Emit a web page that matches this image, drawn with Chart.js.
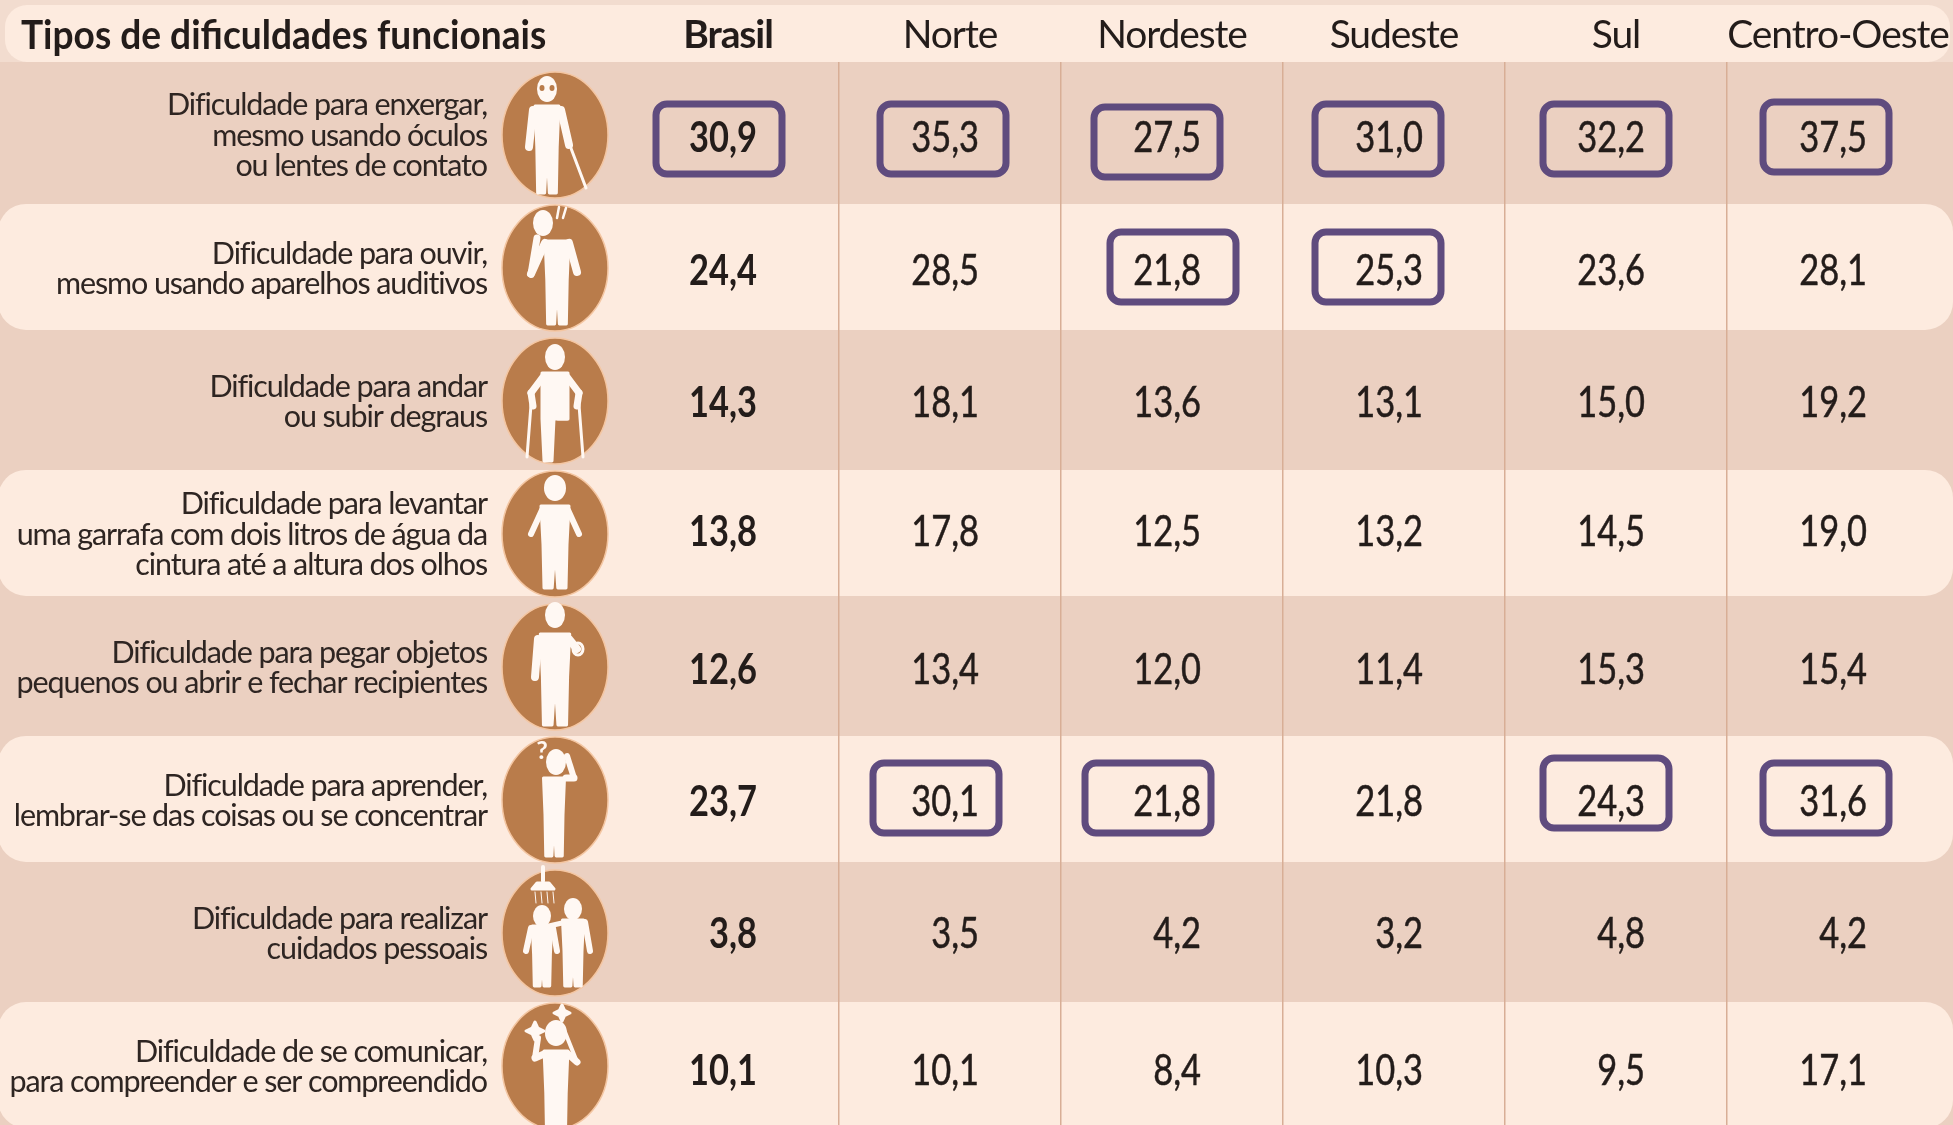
<!DOCTYPE html>
<html>
<head>
<meta charset="utf-8">
<style>
  html, body { margin: 0; padding: 0; background: #ecd2c3; overflow: hidden; }
  #wrap { width: 1953px; height: 1125px; }
</style>
<script src="https://cdn.jsdelivr.net/npm/chart.js@4/dist/chart.umd.min.js"></script>
</head>
<body>
<div id="wrap"><canvas id="myChart" width="1953" height="1125"></canvas></div>
<script>
// data
const headerTitle = 'Tipos de dificuldades funcionais';
const regions = ['Brasil', 'Norte', 'Nordeste', 'Sudeste', 'Sul', 'Centro-Oeste'];
const rowLabels = [
  ['Dificuldade para enxergar,', 'mesmo usando óculos', 'ou lentes de contato'],
  ['Dificuldade para ouvir,', 'mesmo usando aparelhos auditivos'],
  ['Dificuldade para andar', 'ou subir degraus'],
  ['Dificuldade para levantar', 'uma garrafa com dois litros de água da', 'cintura até a altura dos olhos'],
  ['Dificuldade para pegar objetos', 'pequenos ou abrir e fechar recipientes'],
  ['Dificuldade para aprender,', 'lembrar-se das coisas ou se concentrar'],
  ['Dificuldade para realizar', 'cuidados pessoais'],
  ['Dificuldade de se comunicar,', 'para compreender e ser compreendido']
];
const brasil = [30.9, 24.4, 14.3, 13.8, 12.6, 23.7, 3.8, 10.1];
const norte = [35.3, 28.5, 18.1, 17.8, 13.4, 30.1, 3.5, 10.1];
const nordeste = [27.5, 21.8, 13.6, 12.5, 12.0, 21.8, 4.2, 8.4];
const sudeste = [31.0, 25.3, 13.1, 13.2, 11.4, 21.8, 3.2, 10.3];
const sul = [32.2, 23.6, 15.0, 14.5, 15.3, 24.3, 4.8, 9.5];
const centroOeste = [37.5, 28.1, 19.2, 19.0, 15.4, 31.6, 4.2, 17.1];
const seriesValues = [brasil, norte, nordeste, sudeste, sul, centroOeste];
// cells with a purple frame: region, row
const highlighted = [
  ['Brasil', 0], ['Norte', 0], ['Nordeste', 0], ['Sudeste', 0], ['Sul', 0], ['Centro-Oeste', 0],
  ['Nordeste', 1], ['Sudeste', 1],
  ['Norte', 5], ['Nordeste', 5], ['Sul', 5], ['Centro-Oeste', 5]
];

// layout, nothing here comes from the table
const dark = '#ebd0c1', light = '#fdebdf', brown = '#b97c4b', purple = '#5f4b7e', ink = '#231c1a', white = '#fff8f3';
const frameShift = [[-9, 3], [-7, 3], [-15, 6], [-16, 3], [-10, 3], [-12, 1], [1, -2], [-16, -2], [-14, -3], [-24, -3], [-10, -8], [-12, -3]];
const rowShift = [2, 1, 0, -4, 1, 0, -1, 3];

function fmt(v) { return v.toFixed(1).replace('.', ','); }

// closed white shape with soft corners
function shape(ctx, pts) {
  ctx.beginPath();
  pts.forEach((p, i) => i ? ctx.lineTo(p[0], p[1]) : ctx.moveTo(p[0], p[1]));
  ctx.closePath();
  ctx.fill();
  ctx.stroke();
}

function head(ctx, x, y, rx, ry) {
  ctx.beginPath();
  ctx.ellipse(x, y, rx, ry, 0, 0, Math.PI * 2);
  ctx.fill();
}

function line(ctx, x1, y1, x2, y2, w) {
  ctx.save();
  ctx.lineWidth = w;
  ctx.beginPath();
  ctx.moveTo(x1, y1);
  ctx.lineTo(x2, y2);
  ctx.stroke();
  ctx.restore();
}

// trunk and legs. x = middle, t = shoulders, b = feet, s = half width of the shoulders
function trunk(ctx, x, t, b, s) {
  const m = t + (b - t) * 0.47;
  shape(ctx, [
    [x - s * 0.7, t], [x + s * 0.7, t], [x + s * 0.6, m],
    [x + s * 0.55, b], [x + s * 0.14, b], [x, m + 4],
    [x - s * 0.14, b], [x - s * 0.55, b], [x - s * 0.6, m]
  ]);
}

// one white figure per row, drawn around the middle of its circle
function figure(ctx, i, cx, cy) {
  if (i === 0) {
    head(ctx, cx - 8, cy - 46, 10, 13);
    trunk(ctx, cx - 8, cy - 29, cy + 58, 17);
    line(ctx, cx - 22, cy - 25, cx - 26, cy + 12, 8);
    line(ctx, cx + 6, cy - 25, cx + 14, cy + 10, 8);
    line(ctx, cx + 14, cy + 8, cx + 31, cy + 53, 3);
    ctx.fillStyle = brown;
    head(ctx, cx - 13, cy - 47, 2.5, 3);
    head(ctx, cx - 3, cy - 47, 2.5, 3);
    ctx.fillStyle = white;
  } else if (i === 1) {
    head(ctx, cx - 12, cy - 45, 10, 13);
    trunk(ctx, cx + 2, cy - 27, cy + 56, 17);
    line(ctx, cx - 10, cy - 25, cx - 24, cy + 6, 8);
    line(ctx, cx - 24, cy + 6, cx - 18, cy - 30, 7);
    line(ctx, cx + 14, cy - 25, cx + 22, cy + 4, 8);
    line(ctx, cx + 4, cy - 61, cx + 2, cy - 50, 2.5);
    line(ctx, cx + 11, cy - 60, cx + 8, cy - 50, 2.5);
  } else if (i === 2) {
    head(ctx, cx, cy - 44, 10, 13);
    shape(ctx, [[cx - 13, cy - 28], [cx + 13, cy - 28], [cx + 13, cy + 18], [cx + 8, cy + 18], [cx - 1, cy + 18], [cx - 3, cy + 60], [cx - 11, cy + 60], [cx - 13, cy + 18]]);
    shape(ctx, [[cx + 3, cy - 2], [cx + 12, cy - 2], [cx + 12, cy + 18], [cx + 3, cy + 18]]);
    line(ctx, cx - 12, cy - 24, cx - 24, cy - 8, 7);
    line(ctx, cx - 24, cy - 8, cx - 22, cy + 5, 7);
    line(ctx, cx + 12, cy - 24, cx + 24, cy - 8, 7);
    line(ctx, cx + 24, cy - 8, cx + 22, cy + 5, 7);
    line(ctx, cx - 24, cy + 4, cx - 28, cy + 56, 3);
    line(ctx, cx + 24, cy + 4, cx + 28, cy + 56, 3);
  } else if (i === 3) {
    head(ctx, cx, cy - 46, 11, 13);
    trunk(ctx, cx, cy - 28, cy + 54, 20);
    line(ctx, cx - 13, cy - 24, cx - 24, cy + 0, 6);
    line(ctx, cx + 13, cy - 24, cx + 24, cy + 0, 6);
  } else if (i === 4) {
    head(ctx, cx, cy - 52, 10, 13);
    trunk(ctx, cx, cy - 33, cy + 58, 21);
    line(ctx, cx - 17, cy - 28, cx - 20, cy + 10, 8);
    line(ctx, cx + 14, cy - 28, cx + 22, cy - 18, 8);
    ctx.beginPath();
    ctx.ellipse(cx + 23, cy - 18, 5, 6, 0, 0, Math.PI * 2);
    ctx.stroke();
  } else if (i === 5) {
    head(ctx, cx + 1, cy - 38, 10, 13);
    trunk(ctx, cx - 1, cy - 22, cy + 56, 15);
    line(ctx, cx + 11, cy - 22, cx + 19, cy - 22, 7);
    line(ctx, cx + 19, cy - 22, cx + 12, cy - 44, 6);
    ctx.save();
    ctx.font = 'bold 25px Lato';
    ctx.textAlign = 'center';
    ctx.fillText('?', cx - 13, cy - 41);
    ctx.restore();
  } else if (i === 6) {
    head(ctx, cx - 13, cy - 17, 9, 11);
    trunk(ctx, cx - 13, cy - 7, cy + 53, 14);
    line(ctx, cx - 24, cy - 5, cx - 29, cy + 18, 6);
    line(ctx, cx - 2, cy - 5, cx + 2, cy + 18, 6);
    head(ctx, cx + 18, cy - 24, 9, 11);
    trunk(ctx, cx + 18, cy - 13, cy + 53, 15);
    line(ctx, cx + 30, cy - 11, cx + 35, cy + 18, 6);
    line(ctx, cx + 7, cy - 10, cx - 6, cy - 7, 5);
    line(ctx, cx - 12, cy - 66, cx - 12, cy - 52, 4);
    shape(ctx, [[cx - 18, cy - 50], [cx - 6, cy - 50], [cx - 1, cy - 44], [cx - 23, cy - 44]]);
    [-20, -14, -8, -2].forEach(dx => line(ctx, cx + dx, cy - 41, cx + dx + 1, cy - 30, 1));
  } else {
    head(ctx, cx + 1, cy - 33, 11, 13);
    trunk(ctx, cx + 1, cy - 15, cy + 75, 17);
    line(ctx, cx - 11, cy - 12, cx - 20, cy - 8, 7);
    line(ctx, cx - 20, cy - 8, cx - 17, cy - 28, 6);
    line(ctx, cx + 13, cy - 12, cx + 22, cy - 4, 7);
    line(ctx, cx + 10, cy - 34, cx + 22, cy - 4, 4);
    star(ctx, cx - 20, cy - 35, 9);
    star(ctx, cx + 7, cy - 53, 8);
  }
}

function star(ctx, x, y, r) {
  const pts = [];
  for (let k = 0; k < 8; k++) {
    const rr = k % 2 ? r * 0.45 : r;
    const a = k * Math.PI / 4;
    pts.push([x + Math.sin(a) * rr, y - Math.cos(a) * rr]);
  }
  shape(ctx, pts);
}

function icon(ctx, i, cx, cy) {
  ctx.save();
  ctx.fillStyle = brown;
  ctx.strokeStyle = '#f4c6a2';
  ctx.lineWidth = 1.5;
  ctx.beginPath();
  ctx.ellipse(cx, cy, 53, 63, 0, 0, Math.PI * 2);
  ctx.fill();
  ctx.stroke();
  ctx.fillStyle = white;
  ctx.strokeStyle = white;
  ctx.lineWidth = 3;
  ctx.lineJoin = 'round';
  ctx.lineCap = 'round';
  figure(ctx, i, cx, cy);
  ctx.restore();
}

const tablePlugin = {
  id: 'tablePlugin',
  beforeDraw(chart) {
    const { ctx, width, height, scales: { y } } = chart;
    ctx.save();
    ctx.fillStyle = dark;
    ctx.fillRect(0, 0, width, height);
    ctx.fillStyle = '#f2dccf';
    ctx.fillRect(0, 0, width, 62);
    ctx.fillStyle = light;
    // header stripe
    ctx.beginPath();
    ctx.roundRect(5, 5, width - 8, y.top - 5, 22);
    ctx.fill();
    // light stripes on every second row
    rowLabels.forEach((_, i) => {
      if (i % 2 === 0) return;
      ctx.beginPath();
      ctx.roundRect(-2, y.getPixelForValue(i) - 65, width + 2, 126, 28);
      ctx.fill();
    });
    ctx.restore();
    // the original lettering is narrow, the axes inherit this
    ctx.letterSpacing = '-1.1px';
  },
  afterDatasetsDraw(chart) {
    const { ctx, scales: { x, y } } = chart;
    ctx.save();
    ctx.letterSpacing = '0px';
    rowLabels.forEach((_, i) => icon(ctx, i, x.left - 62, y.getPixelForValue(i) - 1));

    // frames
    ctx.strokeStyle = purple;
    ctx.lineWidth = 7;
    highlighted.forEach((h, i) => {
      const bx = x.getPixelForValue(regions.indexOf(h[0])) + frameShift[i][0];
      const by = y.getPixelForValue(h[1]) + frameShift[i][1];
      ctx.beginPath();
      ctx.roundRect(bx - 63, by - 35, 126, 70, 11);
      ctx.stroke();
    });

    // cell values, right aligned inside the column
    ctx.fillStyle = ink;
    ctx.strokeStyle = ink;
    ctx.lineWidth = 0.5;
    ctx.textAlign = 'right';
    ctx.textBaseline = 'middle';
    chart.data.datasets.forEach((ds, d) => {
      chart.getDatasetMeta(d).data.forEach((pt, i) => {
        ctx.save();
        ctx.translate(pt.x + 29, pt.y + rowShift[i] + 1);
        ctx.scale(0.82, 1);
        ctx.font = (d === 0 ? 'bold ' : '') + '42px Lato';
        ctx.fillText(fmt(ds.data[i].v), 0, 0);
        if (d > 0) ctx.strokeText(fmt(ds.data[i].v), 0, 0);
        ctx.restore();
      });
    });

    // header title over the first column
    ctx.translate(21, 36);
    ctx.scale(0.905, 1);
    ctx.textAlign = 'left';
    ctx.font = 'bold 41px Lato';
    ctx.fillText(headerTitle, 0, 0);
    ctx.restore();
  }
};

const ctx = document.getElementById('myChart').getContext('2d');
const chart = new Chart(ctx, {
  type: 'scatter',
  data: {
    datasets: regions.map((name, r) => ({
      label: name,
      data: seriesValues[r].map((v, i) => ({ x: name, y: i, v: v })),
      pointRadius: 0,
      pointHoverRadius: 0
    }))
  },
  options: {
    responsive: false,
    animation: false,
    events: [],
    layout: { padding: { left: 0, right: 4, top: 0, bottom: 0 } },
    plugins: { legend: { display: false }, tooltip: { enabled: false } },
    scales: {
      x: {
        type: 'category',
        labels: regions,
        position: 'top',
        offset: true,
        afterFit: scale => {
          scale.height = 62;
          scale.paddingLeft = 0;
          scale.paddingRight = 0;
        },
        border: { display: false },
        grid: {
          offset: true,
          drawTicks: false,
          lineWidth: 1.5,
          // no line on the two outer edges
          color: c => (c.index > 0 && c.index < regions.length) ? '#d8ae96' : 'rgba(0,0,0,0)'
        },
        ticks: {
          maxRotation: 0,
          autoSkip: false,
          padding: 3,
          color: ink,
          font: c => ({ family: 'Lato', size: 39, weight: c.index === 0 ? 'bold' : 'normal' })
        }
      },
      y: {
        type: 'linear',
        reverse: true,
        min: -0.556,
        max: 7.436,
        afterFit: scale => {
          scale.width = 617;
          scale.paddingTop = 0;
          scale.paddingBottom = 0;
        },
        border: { display: false },
        grid: { display: false },
        ticks: {
          stepSize: 1,
          autoSkip: false,
          includeBounds: false,
          padding: 122,
          color: '#2e2522',
          font: { family: 'Lato', size: 30.5, lineHeight: 1.0 },
          callback: v => rowLabels[v]
        }
      }
    }
  },
  plugins: [tablePlugin]
});
</script>
</body>
</html>
